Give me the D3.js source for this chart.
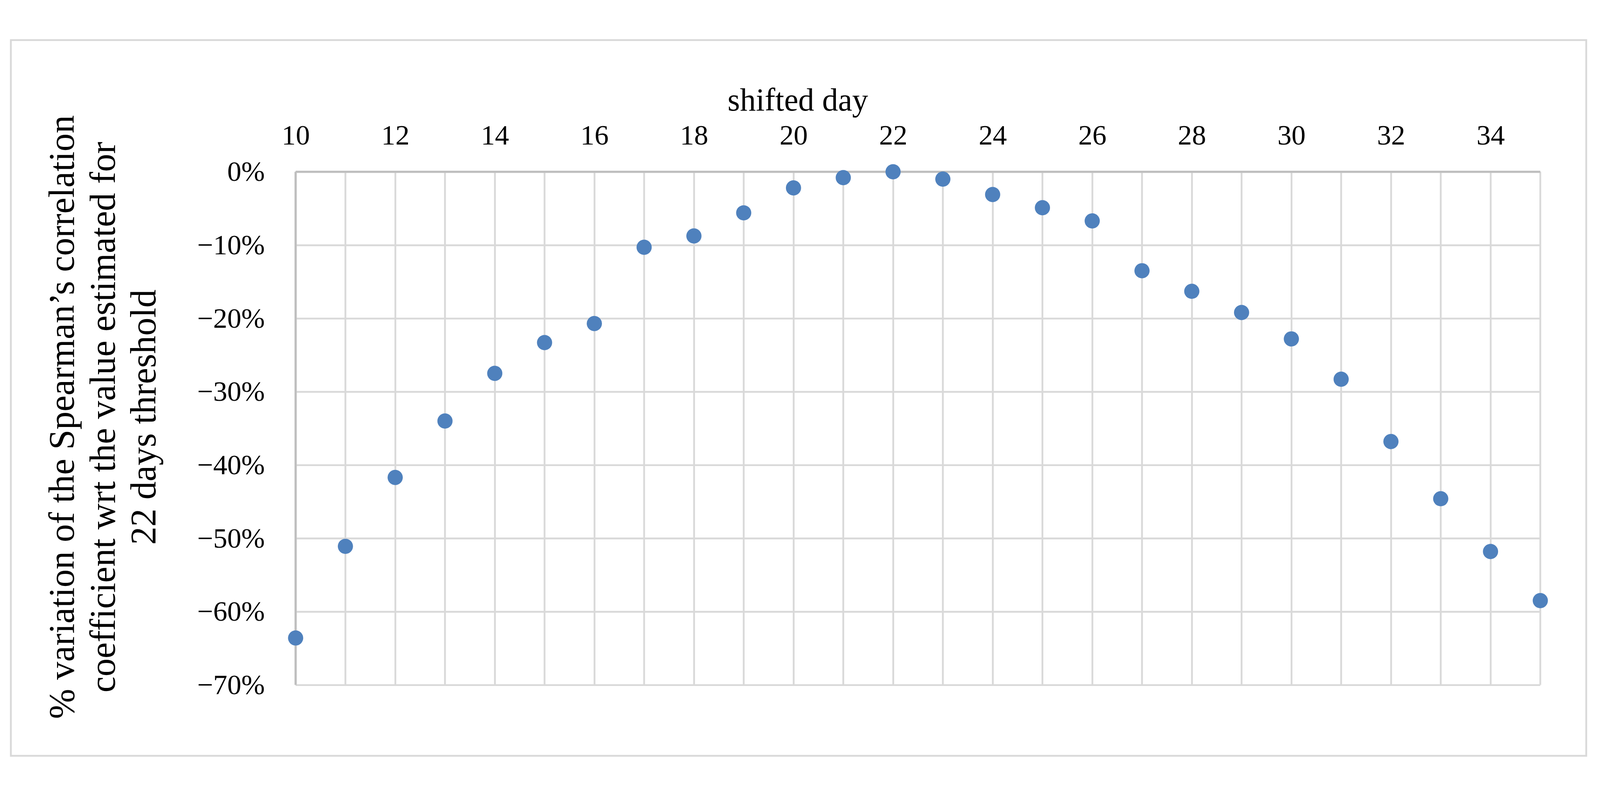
<!DOCTYPE html>
<html><head><meta charset="utf-8">
<script src="https://cdn.jsdelivr.net/npm/d3@7"></script>
<style>html,body{margin:0;padding:0;background:#fff;overflow:hidden}svg{display:block}</style>
</head><body>
<script>
const days = [10,11,12,13,14,15,16,17,18,19,20,21,22,23,24,25,26,27,28,29,30,31,32,33,34,35];
const variation = [-63.6,-51.1,-41.7,-34.0,-27.5,-23.3,-20.7,-10.3,-8.75,-5.6,-2.2,-0.8,0,-1.0,-3.1,-4.9,-6.7,-13.5,-16.3,-19.2,-22.8,-28.3,-36.8,-44.6,-51.8,-58.5];
const xTicks = [10,12,14,16,18,20,22,24,26,28,30,32,34];
const yTicks = [0,-10,-20,-30,-40,-50,-60,-70];

const W=4422,H=2030;
const svg=d3.select("body").append("svg").attr("width","100vw").attr("height","100vh")
  .attr("viewBox",`0 0 ${W} ${H}`).attr("preserveAspectRatio","xMidYMid meet");
const font="'Liberation Serif','Times New Roman',serif";
svg.append("rect").attr("x",30).attr("y",30).attr("width",4354).attr("height",1978)
  .attr("fill","#fff").attr("stroke","#d9d9d9").attr("stroke-width",5);

const x=d3.scaleLinear().domain([10,35]).range([817,4257]);
const y=d3.scaleLinear().domain([0,-70]).range([394,1812]);
const grid="#d9d9d9";

const gx=svg.append("g").attr("transform","translate(0,394)")
  .call(d3.axisTop(x).tickValues(xTicks).tickSize(-(1812-394)).tickPadding(75).tickFormat(d3.format("d")));
const gy=svg.append("g").attr("transform","translate(817,0)")
  .call(d3.axisLeft(y).tickValues(yTicks).tickSize(-(4257-817)).tickPadding(85).tickFormat(d=>(d<0?"\u2212":"")+Math.abs(d)+"%"));
[gx,gy].forEach(g=>{
  g.select(".domain").remove();
  g.selectAll("line").attr("stroke",grid).attr("stroke-width",5);
  g.selectAll("text").attr("font-family",font).attr("font-size",78).attr("fill","#000");
});
svg.append("g").selectAll("line").data(days.filter(d=>d%2===1)).join("line")
  .attr("x1",d=>x(d)).attr("x2",d=>x(d)).attr("y1",394).attr("y2",1812)
  .attr("stroke",grid).attr("stroke-width",5);
svg.append("line").attr("x1",817).attr("x2",4257).attr("y1",394).attr("y2",394).attr("stroke","#bfbfbf").attr("stroke-width",6);
svg.append("line").attr("x1",817).attr("x2",817).attr("y1",394).attr("y2",1812).attr("stroke","#bfbfbf").attr("stroke-width",6);

svg.append("text").attr("x",2205).attr("y",225).attr("text-anchor","middle")
  .attr("font-family",font).attr("font-size",88).text("shifted day");
const t=svg.append("text").attr("transform","translate(0,1072) rotate(-90)")
  .attr("text-anchor","middle").attr("font-family",font).attr("font-size",100);
t.append("tspan").attr("x",0).attr("y",204).text("% variation of the Spearman\u2019s correlation");
t.append("tspan").attr("x",0).attr("y",317).text("coefficient  wrt the value estimated for");
t.append("tspan").attr("x",0).attr("y",430).text("22 days threshold");

svg.append("g").selectAll("circle").data(days).join("circle")
  .attr("cx",d=>x(d)).attr("cy",(d,i)=>y(variation[i])).attr("r",21).attr("fill","#4f81bd");
</script>
</body></html>
